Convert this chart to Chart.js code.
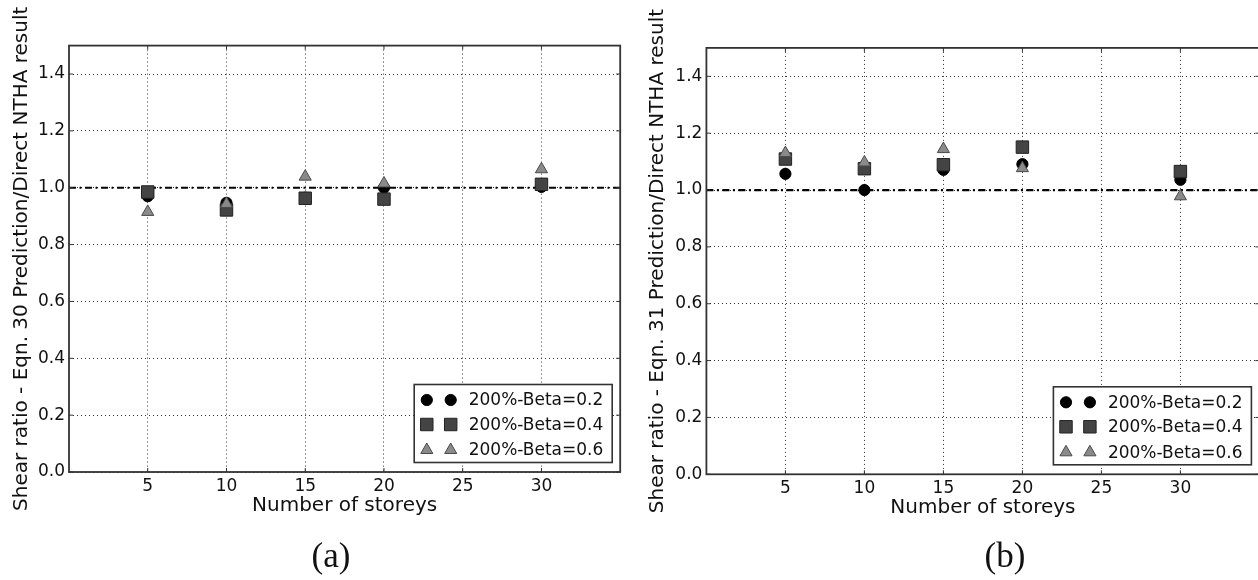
<!DOCTYPE html>
<html>
<head>
<meta charset="utf-8">
<script src="https://cdn.jsdelivr.net/npm/chart.js@4.4.1/dist/chart.umd.min.js"></script>
<style>
  html, body { margin: 0; padding: 0; background: #fff; overflow: hidden; }
  body { width: 1258px; height: 580px; position: relative; }
  canvas { position: absolute; top: 0; }
  #chartA { left: 0; }
  #chartB { left: 630px; }
</style>
</head>
<body>
<canvas id="chartA" width="630" height="580"></canvas>
<canvas id="chartB" width="640" height="580"></canvas>
<script>
const storeys = [5, 10, 15, 20, 30];
const seriesNames = ['200%-Beta=0.2', '200%-Beta=0.4', '200%-Beta=0.6'];

// shear ratio, Eqn. 30
const eqn30Beta02 = [0.970, 0.947, 0.965, 1.000, 1.003];
const eqn30Beta04 = [0.985, 0.922, 0.963, 0.960, 1.012];
const eqn30Beta06 = [0.915, 0.943, 1.039, 1.015, 1.065];

// shear ratio, Eqn. 31
const eqn31Beta02 = [1.057, 1.000, 1.071, 1.091, 1.036];
const eqn31Beta04 = [1.109, 1.075, 1.089, 1.151, 1.065];
const eqn31Beta06 = [1.130, 1.097, 1.144, 1.077, 0.978];

const xTicks = [5, 10, 15, 20, 25, 30];
const yTicks = [0.0, 0.2, 0.4, 0.6, 0.8, 1.0, 1.2, 1.4];
const refX = [0, 35];
const refY = [1.0, 1.0];

const FONT = 'DejaVu Sans';
const markers = [
    { pointStyle: 'circle', radius: 5.6, fill: '#000', edge: '#000' },
    { pointStyle: 'rect', radius: 8.8, fill: '#444', edge: '#222' },
    { pointStyle: 'triangle', radius: 7, fill: '#8a8a8a', edge: '#4a4a4a' }
];

function drawMarker(ctx, m, x, y) {
    ctx.save();
    ctx.fillStyle = m.fill;
    ctx.strokeStyle = m.edge;
    ctx.lineWidth = 1;
    Chart.helpers.drawPoint(ctx, { pointStyle: m.pointStyle, radius: m.radius, rotation: 0, borderWidth: 1 }, x, y);
    ctx.restore();
}

// plot frame with inward tick marks, drawn over the grid and markers
const framePlugin = {
    id: 'frame',
    afterDatasetsDraw(chart) {
        const { ctx, chartArea: a, scales: { x, y } } = chart;
        ctx.save();
        ctx.strokeStyle = '#333';
        ctx.lineWidth = 1;
        ctx.beginPath();
        xTicks.forEach(v => {
            const px = x.getPixelForValue(v);
            ctx.moveTo(px, a.bottom); ctx.lineTo(px, a.bottom - 4);
            ctx.moveTo(px, a.top); ctx.lineTo(px, a.top + 4);
        });
        yTicks.forEach(v => {
            const py = y.getPixelForValue(v);
            ctx.moveTo(a.left, py); ctx.lineTo(a.left + 4, py);
            ctx.moveTo(a.right, py); ctx.lineTo(a.right - 4, py);
        });
        ctx.stroke();
        ctx.lineWidth = 1.8;
        ctx.strokeRect(a.left, a.top, a.right - a.left, a.bottom - a.top);
        ctx.restore();
    }
};

// legend box in the lower right corner, two markers per entry
const boxLegendPlugin = {
    id: 'boxLegend',
    afterDraw(chart, args, opts) {
        const { ctx, chartArea: a } = chart;
        const w = 198, h = 78;
        const left = a.right - 8 - w, top = a.bottom - 9.5 - h;
        ctx.save();
        ctx.fillStyle = '#fff';
        ctx.fillRect(left, top, w, h);
        ctx.strokeStyle = '#333';
        ctx.lineWidth = 1.6;
        ctx.strokeRect(left, top, w, h);
        ctx.font = '17px "' + FONT + '"';
        ctx.fillStyle = '#111';
        ctx.textBaseline = 'middle';
        const rows = [15.5, 40, 65.5];
        seriesNames.forEach((name, i) => {
            const yy = top + rows[i];
            drawMarker(ctx, markers[i], left + 12.6, yy);
            drawMarker(ctx, markers[i], left + 36.5, yy);
            ctx.fillText(name, left + 54.5, yy + 1);
        });
        ctx.restore();
    }
};

// sub-figure caption under the axis title
const captionPlugin = {
    id: 'caption',
    afterDraw(chart, args, opts) {
        const ctx = chart.ctx;
        ctx.save();
        ctx.font = '35px "Liberation Serif"';
        ctx.fillStyle = '#111';
        ctx.textAlign = 'center';
        ctx.textBaseline = 'alphabetic';
        ctx.fillText(opts.text, opts.x, 567);
        ctx.restore();
    }
};

function buildChart(id, series, yTitle, caption, g) {
    const datasets = series.map((vals, i) => ({
        label: seriesNames[i],
        data: storeys.map((s, k) => ({ x: s, y: vals[k] })),
        showLine: false,
        pointStyle: markers[i].pointStyle,
        pointRadius: markers[i].radius,
        backgroundColor: markers[i].fill,
        borderColor: markers[i].edge,
        borderWidth: 1,
        order: 2 - i
    }));
    datasets.push({
        label: 'ratio = 1',
        type: 'line',
        data: refX.map((x, k) => ({ x, y: refY[k] })),
        borderColor: '#000',
        borderWidth: 2.2,
        borderDash: [7, 3.5, 2, 3.5],
        pointRadius: 0,
        order: 3
    });

    const tickFont = { family: FONT, size: 17 };
    const titleFont = { family: FONT, size: 20 };
    return new Chart(document.getElementById(id), {
        type: 'scatter',
        data: { datasets },
        options: {
            responsive: false,
            animation: false,
            events: [],
            devicePixelRatio: 1,
            layout: { padding: { left: 0, top: g.top, right: g.right, bottom: 0 } },
            plugins: {
                legend: { display: false },
                tooltip: { enabled: false },
                caption: { text: caption, x: g.captionX }
            },
            scales: {
                x: {
                    type: 'linear', min: 0, max: 35,
                    afterBuildTicks: s => { s.ticks = xTicks.map(v => ({ value: v })); },
                    afterFit: s => { s.height = g.xHeight; },
                    grid: { color: '#333', lineWidth: 1, drawTicks: false },
                    border: { display: false, dash: [1, 3] },
                    ticks: { color: '#111', font: tickFont, padding: 4, maxRotation: 0, autoSkip: false },
                    title: { display: true, text: 'Number of storeys', color: '#111', font: titleFont, padding: { top: 0, bottom: g.xTitlePad } }
                },
                y: {
                    type: 'linear', min: 0, max: 1.5,
                    afterBuildTicks: s => { s.ticks = yTicks.map(v => ({ value: v })); },
                    afterFit: s => { s.width = g.left; },
                    grid: { color: '#333', lineWidth: 1, drawTicks: false },
                    border: { display: false, dash: [1, 3] },
                    ticks: { color: '#111', font: tickFont, padding: 4, autoSkip: false, callback: v => v.toFixed(1) },
                    title: { display: true, text: yTitle, color: '#111', font: titleFont, padding: { top: g.yTitlePad, bottom: 0 } }
                }
            }
        },
        plugins: [framePlugin, boxLegendPlugin, captionPlugin]
    });
}

buildChart('chartA', [eqn30Beta02, eqn30Beta04, eqn30Beta06],
    'Shear ratio - Eqn. 30 Prediction/Direct NTHA result', '(a)',
    { left: 69, top: 45.6, right: 8, xHeight: 108, yTitlePad: 9.7, xTitlePad: 62.7, captionX: 331 });

buildChart('chartB', [eqn31Beta02, eqn31Beta04, eqn31Beta06],
    'Shear ratio - Eqn. 31 Prediction/Direct NTHA result', '(b)',
    { left: 76.4, top: 47.9, right: 10.6, xHeight: 105.7, yTitlePad: 16, xTitlePad: 60.3, captionX: 375 });
</script>
</body>
</html>
